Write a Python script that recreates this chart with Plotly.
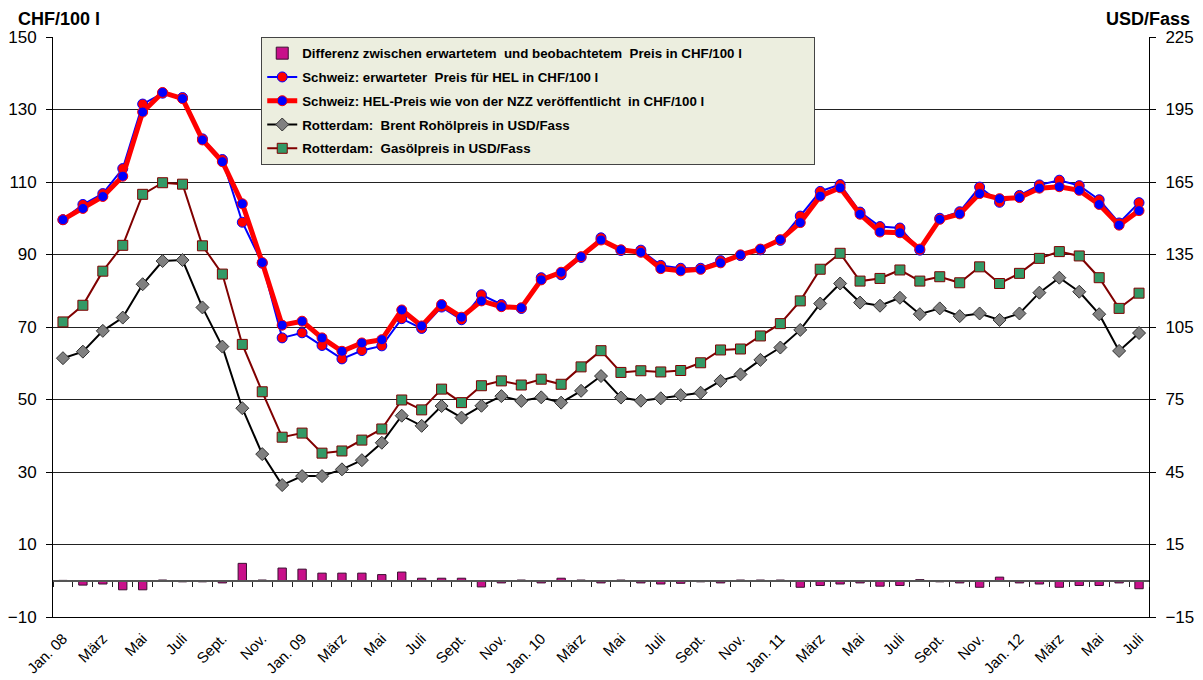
import plotly.graph_objects as go

# ---- data ----
months = [f"{y}-{m:02d}" for y in range(2008, 2013) for m in range(1, 13)][:55]

tick_pos = months[::2]
tick_labels = ["Jan. 08", "März", "Mai", "Juli", "Sept.", "Nov.",
               "Jan. 09", "März", "Mai", "Juli", "Sept.", "Nov.",
               "Jan. 10", "März", "Mai", "Juli", "Sept.", "Nov.",
               "Jan. 11", "März", "Mai", "Juli", "Sept.", "Nov.",
               "Jan. 12", "März", "Mai", "Juli"]

# Schweiz: erwarteter Preis für HEL (CHF/100 l)
expected = [99.6, 103.8, 106.8, 113.7, 131.5, 134.5, 133.3, 121.9, 116.2, 98.9,
            87.6, 67.0, 68.4, 64.9, 61.2, 63.5, 64.8, 72.3, 69.6, 75.5,
            72.0, 78.9, 76.2, 75.1, 83.6, 84.4, 89.2, 94.6, 91.1, 91.2,
            87.0, 86.2, 86.2, 88.3, 89.7, 91.3, 93.9, 100.6, 107.4, 109.3,
            101.7, 97.7, 97.3, 91.2, 100.0, 101.8, 108.6, 104.4, 106.3, 109.2,
            110.5, 109.0, 105.1, 98.7, 104.3]

# Schweiz: HEL-Preis wie von der NZZ veröffentlicht (CHF/100 l)
nzz = [99.6, 102.7, 106.0, 111.6, 129.3, 134.7, 133.0, 121.6, 115.6, 104.0,
       87.8, 70.5, 71.6, 67.0, 63.3, 65.6, 66.5, 74.7, 70.3, 76.2,
       72.7, 77.2, 75.6, 75.3, 83.0, 85.1, 89.4, 94.0, 91.3, 90.6,
       86.1, 85.5, 85.9, 87.7, 89.9, 91.5, 94.1, 98.8, 106.1, 108.4,
       101.1, 96.2, 96.0, 91.5, 99.7, 101.2, 106.8, 105.4, 105.7, 108.3,
       108.7, 107.7, 103.8, 98.1, 102.1]

# Differenz zwischen erwartetem und beobachtetem Preis (CHF/100 l)
diff = [0.1, -1.2, -0.9, -2.5, -2.5, 0.2, -0.3, -0.3, -0.6, 4.8,
        0.2, 3.5, 3.2, 2.1, 2.1, 2.1, 1.7, 2.4, 0.7, 0.7,
        0.7, -1.7, -0.6, 0.2, -0.6, 0.7, 0.2, -0.6, 0.2, -0.6,
        -0.9, -0.7, -0.3, -0.6, 0.2, 0.2, 0.2, -1.8, -1.3, -0.9,
        -0.6, -1.5, -1.3, 0.3, -0.3, -0.6, -1.8, 1.0, -0.6, -0.9,
        -1.8, -1.3, -1.3, -0.6, -2.2]

# Rotterdam: Brent Rohölpreis (USD/Fass)
brent = [92.1, 94.8, 103.4, 108.9, 122.7, 132.3, 132.7, 113.1, 96.9, 71.4,
         52.4, 39.6, 43.3, 43.3, 46.1, 49.9, 57.1, 68.3, 64.1, 72.3,
         67.5, 72.4, 76.4, 74.4, 75.9, 73.7, 78.6, 84.7, 75.8, 74.5,
         75.5, 76.8, 77.8, 82.7, 85.4, 91.4, 96.5, 103.8, 114.7, 123.0,
         115.1, 113.8, 117.1, 110.3, 112.7, 109.5, 110.6, 107.9, 110.6, 119.2,
         125.4, 119.6, 110.3, 95.1, 102.5]

# Rotterdam: Gasölpreis (USD/Fass)
gasoil = [107.1, 114.0, 128.1, 138.8, 159.9, 164.7, 164.1, 138.6, 126.9, 97.8,
          78.2, 59.4, 61.1, 52.8, 53.7, 58.2, 62.8, 74.8, 70.7, 79.3,
          73.7, 80.7, 82.7, 81.0, 83.4, 81.3, 88.5, 95.2, 86.2, 86.9,
          86.4, 87.0, 90.2, 95.5, 95.9, 101.3, 106.4, 115.8, 128.9, 135.5,
          124.0, 125.1, 128.6, 124.0, 125.8, 123.3, 129.9, 123.0, 127.2, 133.4,
          136.2, 134.4, 125.4, 112.7, 119.0]

FONT = "Liberation Sans, Arial, sans-serif"
NB = "\u00a0"

fig = go.Figure()

fig.add_trace(go.Bar(
    x=months, y=diff, xaxis="x2", yaxis="y", width=0.42, legendgroup="g1",
    name="Differenz zwischen erwartetem" + NB + " und beobachtetem" + NB
         + " Preis in CHF/100 l" + NB * 18,
    marker=dict(color="#C8108A", line=dict(color="#3a1030", width=1)),
))
fig.add_trace(go.Scatter(
    x=months, y=expected, mode="lines+markers", legendgroup="g2",
    name="Schweiz: erwarteter" + NB + " Preis für HEL in CHF/100 l",
    line=dict(color="#0000FF", width=2),
    marker=dict(symbol="circle", size=10, color="#FF0000",
                line=dict(color="#0000FF", width=1)),
))
fig.add_trace(go.Scatter(
    x=months, y=nzz, mode="lines+markers", legendgroup="g3",
    name="Schweiz: HEL-Preis wie von der NZZ veröffentlicht" + NB + " in CHF/100 l",
    line=dict(color="#FF0000", width=5),
    marker=dict(symbol="circle", size=10, color="#0000FF",
                line=dict(color="#FF0000", width=1)),
))
fig.add_trace(go.Scatter(
    x=months, y=brent, mode="lines+markers", yaxis="y2", legendgroup="g4",
    name="Rotterdam:" + NB + " Brent Rohölpreis in USD/Fass",
    line=dict(color="#000000", width=2),
    marker=dict(symbol="diamond", size=10, color="#808080",
                line=dict(color="#333333", width=1)),
))
fig.add_trace(go.Scatter(
    x=months, y=gasoil, mode="lines+markers", yaxis="y2", legendgroup="g5",
    name="Rotterdam:" + NB + " Gasölpreis in USD/Fass",
    line=dict(color="#800000", width=2),
    marker=dict(symbol="square", size=10, color="#339966",
                line=dict(color="#800000", width=1)),
))

fig.update_layout(
    width=1203, height=680,
    margin=dict(l=45, r=62, t=29, b=71, autoexpand=False),
    paper_bgcolor="white", plot_bgcolor="white",
    font=dict(family=FONT, color="black"),
    showlegend=True,
    legend=dict(
        x=0.19, y=1.0, xanchor="left", yanchor="top",
        bgcolor="#ECEEDF", bordercolor="#444444", borderwidth=1,
        font=dict(family=FONT, size=13.3, color="black", weight="bold"),
        tracegroupgap=3.5, itemwidth=30,
    ),
    bargap=0.5,
    xaxis=dict(
        type="category", categoryorder="array", categoryarray=months,
        range=[-0.5, 54.5], tickmode="array", tickvals=tick_pos,
        ticktext=tick_labels, tickangle=-45, ticks="",
        tickfont=dict(size=15), showline=True, linecolor="black",
        linewidth=1, showgrid=False, mirror=False, zeroline=False,
        ticklabelstandoff=6, automargin=False,
    ),
    xaxis2=dict(
        type="category", categoryorder="array", categoryarray=months,
        overlaying="x", anchor="free", position=0.0625,
        range=[-0.5, 54.5], tickmode="linear", dtick=1, tickson="boundaries",
        ticks="outside", ticklen=5, tickcolor="#222", showticklabels=False,
        showline=True, linecolor="#555555", linewidth=1.5, showgrid=False,
        automargin=False,
    ),
    yaxis=dict(
        range=[-10, 150], tickmode="linear", tick0=-10, dtick=20,
        showgrid=True, gridcolor="#222222", gridwidth=1, zeroline=False,
        showline=True, linecolor="black", linewidth=1,
        ticks="outside", ticklen=6, tickcolor="black",
        tickfont=dict(size=17), ticklabelstandoff=6, automargin=False,
    ),
    yaxis2=dict(
        range=[-15, 225], tickmode="linear", tick0=-15, dtick=30,
        overlaying="y", side="right", showgrid=False, zeroline=False,
        showline=True, linecolor="black", linewidth=1,
        ticks="outside", ticklen=6, tickcolor="black",
        tickfont=dict(size=17), ticklabelstandoff=6, automargin=False,
    ),
    annotations=[
        dict(text="<b>CHF/100 l</b>", xref="paper", yref="paper",
             x=-0.033, y=1.05, xanchor="left", yanchor="top",
             showarrow=False, borderpad=0, font=dict(size=18, family=FONT)),
        dict(text="<b>USD/Fass</b>", xref="paper", yref="paper",
             x=1.038, y=1.05, xanchor="right", yanchor="top",
             showarrow=False, borderpad=0, font=dict(size=18, family=FONT)),
    ],
)

fig.write_html("out.html")
